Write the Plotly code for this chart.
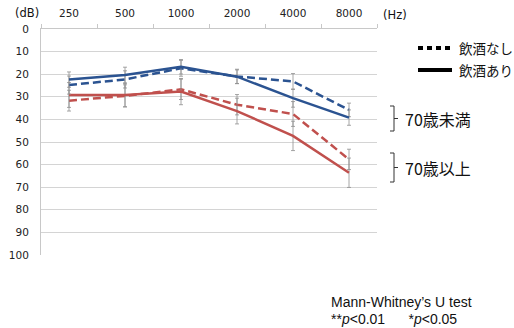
import plotly.graph_objects as go

freqs = ["250", "500", "1000", "2000", "4000", "8000"]
y_ticks = [0, 10, 20, 30, 40, 50, 60, 70, 80, 90, 100]

under70_drink = [22.4, 20.4, 16.7, 21.1, 30.6, 39.2]
under70_drink_sd = [3.4, 3.5, 3.2, 3.0, 4.0, 3.4]
under70_nodrink = [24.8, 22.3, 17.4, 21.0, 23.2, 35.8]
under70_nodrink_sd = [4.0, 3.8, 3.5, 3.2, 3.5, 3.0]
over70_drink = [29.2, 29.2, 27.7, 36.3, 47.3, 63.6]
over70_drink_sd = [5.5, 5.2, 5.8, 5.7, 6.5, 6.5]
over70_nodrink = [31.7, 29.6, 26.7, 33.5, 37.6, 57.7]
over70_nodrink_sd = [4.6, 4.9, 4.5, 4.5, 5.5, 4.5]

BLUE = "#2B5391"
RED = "#C0504D"
ERR = "#8f8f8f"

series = [
    (over70_nodrink, over70_nodrink_sd, RED, "8px,4px"),
    (over70_drink, over70_drink_sd, RED, "solid"),
    (under70_nodrink, under70_nodrink_sd, BLUE, "8px,4px"),
    (under70_drink, under70_drink_sd, BLUE, "solid"),
]

fig = go.Figure()
for vals, sd, col, dash in series:
    fig.add_trace(go.Scatter(
        x=freqs, y=vals, mode="lines",
        line=dict(color=col, width=2.5, dash=dash),
        error_y=dict(type="data", array=sd, visible=True, color=ERR, thickness=0.8, width=2),
        showlegend=False, hoverinfo="skip",
    ))

fig.update_layout(
    width=514, height=328,
    margin=dict(l=41, r=137, t=29, b=73, autoexpand=False),
    paper_bgcolor="white", plot_bgcolor="white",
    font=dict(family="DejaVu Sans", size=10, color="#222"),
    xaxis=dict(
        type="category", categoryarray=freqs, range=[-0.5, 5.5],
        side="top", showgrid=False, zeroline=False, automargin=False,
        showline=True, linecolor="#c8c8c8", linewidth=1,
        ticks="outside", tickson="boundaries", ticklen=4, tickcolor="#c8c8c8",
        ticklabelstandoff=7,
        tickfont=dict(family="DejaVu Sans", size=10.5, color="#222"),
    ),
    yaxis=dict(
        range=[100, 0], tickvals=y_ticks, showgrid=True, gridcolor="#d4d4d4",
        zeroline=False, showline=True, linecolor="#c8c8c8", linewidth=1,
        ticks="", ticklabelstandoff=9, automargin=False,
        tickfont=dict(family="DejaVu Sans", size=10.5, color="#222"),
    ),
)

def ann(x, y, text, size, family="DejaVu Sans", xanchor="center"):
    fig.add_annotation(xref="paper", yref="paper", x=x, y=y, text=text, showarrow=False,
                       xanchor=xanchor, yanchor="middle",
                       font=dict(family=family, size=size, color="#111"))

W, H = 514, 328
pl, pr, pt, pb = 41, 377, 29, 255
def px(x):
    return (x - pl) / (pr - pl)
def py(y):
    return (pb - y) / (pb - pt)

ann(px(27), py(13), "(dB)", 11.5)
ann(px(395), py(15), "(Hz)", 11.5)

# stars
fig.add_annotation(x="4000", y=20.0, xref="x", yref="y", text="*", showarrow=False,
                   font=dict(family="Liberation Sans", size=20, color="#111"))
fig.add_annotation(x="4000", y=58.5, xref="x", yref="y", text="**", showarrow=False,
                   font=dict(family="Liberation Sans", size=20, color="#111"))

# legend
fig.add_shape(type="line", xref="paper", yref="paper", x0=px(418), x1=px(452), y0=py(48), y1=py(48),
              line=dict(color="#000", width=4, dash="5px,4px"))
fig.add_shape(type="line", xref="paper", yref="paper", x0=px(418), x1=px(452), y0=py(70), y1=py(70),
              line=dict(color="#000", width=4))
ann(px(457), py(48), "飲酒なし", 13.5, "Noto Sans CJK JP", "left")
ann(px(457), py(70), "飲酒あり", 13.5, "Noto Sans CJK JP", "left")

# brackets
for top, bot, label in [(106, 131, "70歳未満"), (153, 182, "70歳以上")]:
    mid = (top + bot) / 2
    path = (f"M {px(390)},{py(top)} L {px(394)},{py(top)} L {px(394)},{py(bot)} L {px(390)},{py(bot)} "
            f"M {px(394)},{py(mid)} L {px(398)},{py(mid)}")
    fig.add_shape(type="path", xref="paper", yref="paper", path=path,
                  line=dict(color="#333", width=1))
    ann(px(403), py(mid), label, 16, "Noto Sans CJK JP", "left")

ann(px(329), py(302), "Mann-Whitney’s U test", 14, "Liberation Sans", "left")
ann(px(329), py(319), "**<i>p</i>&lt;0.01      *<i>p</i>&lt;0.05", 14, "Liberation Sans", "left")

fig.write_html("out.html", post_script="document.body.style.margin='0';",
               config={"displayModeBar": False, "staticPlot": True})
